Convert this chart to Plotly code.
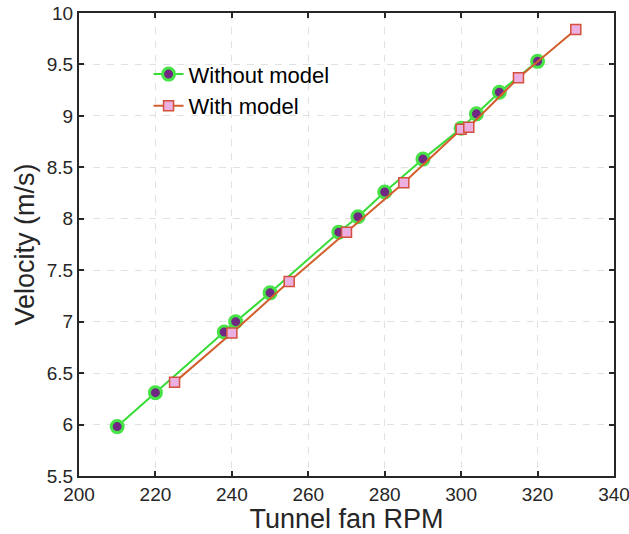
import plotly.graph_objects as go

# Tunnel fan speed (RPM) and measured velocity (m/s)
rpm_without = [210, 220, 238, 241, 250, 268, 273, 280, 290, 300, 304, 310, 320]
vel_without = [5.98, 6.31, 6.90, 7.00, 7.28, 7.87, 8.02, 8.26, 8.58, 8.88, 9.02, 9.23, 9.53]

rpm_with = [225, 240, 255, 270, 285, 300, 302, 315, 330]
vel_with = [6.41, 6.89, 7.39, 7.87, 8.35, 8.87, 8.89, 9.37, 9.84]

x_ticks = [200, 220, 240, 260, 280, 300, 320, 340]
y_ticks = [5.5, 6, 6.5, 7, 7.5, 8, 8.5, 9, 9.5, 10]
y_tick_text = ["5.5", "6", "6.5", "7", "7.5", "8", "8.5", "9", "9.5", "10"]

FONT = "Liberation Sans, Arial, sans-serif"
TEXT = "#262626"

fig = go.Figure()
fig.add_trace(go.Scatter(
    x=rpm_without, y=vel_without, mode="lines+markers", name="Without model",
    line=dict(color="rgb(55,220,55)", width=2),
    marker=dict(symbol="circle", size=12, color="rgb(112,40,130)",
                line=dict(color="rgb(70,228,70)", width=3)),
))
fig.add_trace(go.Scatter(
    x=rpm_with, y=vel_with, mode="lines+markers", name="With model",
    line=dict(color="rgb(210,95,45)", width=2),
    marker=dict(symbol="square", size=10, color="rgb(235,175,225)",
                line=dict(color="rgb(210,80,60)", width=1.5)),
))

axis_common = dict(
    showline=True, linecolor="#262626", linewidth=2, mirror="ticks",
    ticks="inside", ticklen=5, tickwidth=2, tickcolor="#262626",
    showgrid=True, gridcolor="rgb(225,225,225)", gridwidth=1, griddash="7px,7px",
    zeroline=False, tickfont=dict(family=FONT, size=19, color=TEXT),
    ticklabeloverflow="allow", automargin=False,
)

fig.update_xaxes(
    range=[200, 340], tickvals=x_ticks,
    title=dict(text="Tunnel fan RPM", font=dict(family=FONT, size=27, color=TEXT), standoff=2),
    **axis_common,
)
fig.update_yaxes(
    range=[5.5, 10], tickvals=y_ticks, ticktext=y_tick_text,
    title=dict(text="Velocity (m/s)", font=dict(family=FONT, size=27, color=TEXT), standoff=4),
    **axis_common,
)

fig.update_layout(
    width=629, height=534,
    margin=dict(l=79, r=15, t=13, b=58),
    paper_bgcolor="white", plot_bgcolor="white",
    showlegend=True,
    legend=dict(x=0.13, y=0.913, xanchor="left", yanchor="top",
                bgcolor="rgba(255,255,255,0)", borderwidth=0,
                font=dict(family=FONT, size=22, color="black"),
                itemwidth=30, tracegroupgap=0),
)

fig.write_html("out.html")
